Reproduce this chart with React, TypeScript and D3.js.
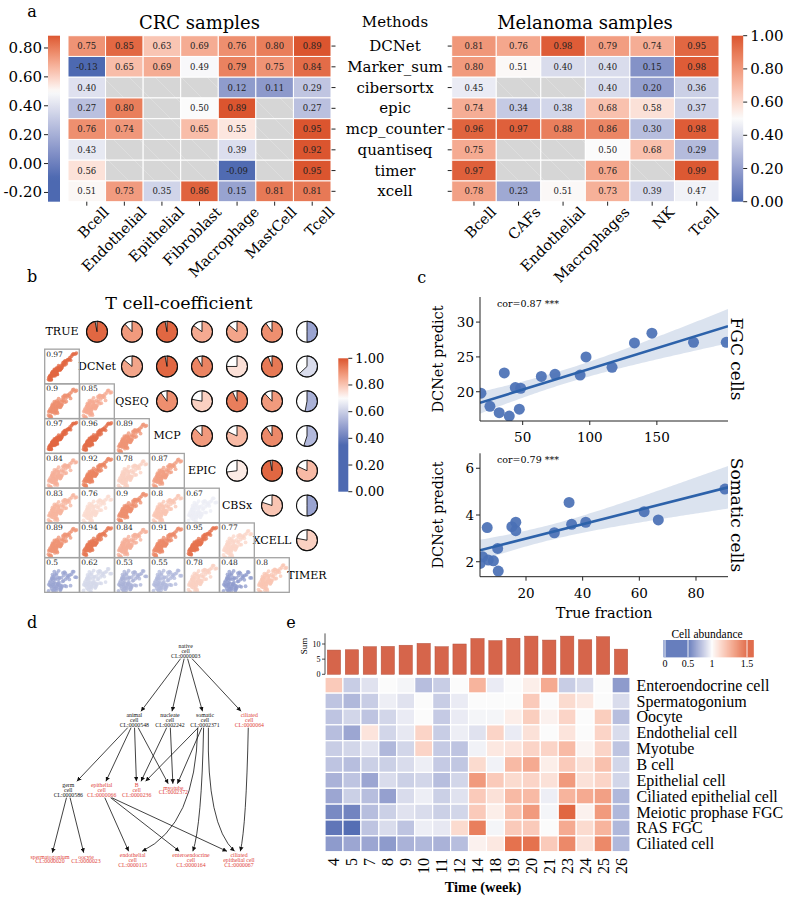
import React from "react";
import * as d3 from "d3";

// ---------------- Panel a data ----------------
const methods = ["DCNet", "Marker_sum", "cibersortx", "epic", "mcp_counter", "quantiseq", "timer", "xcell"];
const crcCellTypes = ["Bcell", "Endothelial", "Epithelial", "Fibroblast", "Macrophage", "MastCell", "Tcell"];
const crcCorr: (number | null)[][] = [
  [0.75, 0.85, 0.63, 0.69, 0.76, 0.8, 0.89],
  [-0.13, 0.65, 0.69, 0.49, 0.79, 0.75, 0.84],
  [0.4, null, null, null, 0.12, 0.11, 0.29],
  [0.27, 0.8, null, 0.5, 0.89, null, 0.27],
  [0.76, 0.74, null, 0.65, 0.55, null, 0.95],
  [0.43, null, null, null, 0.39, null, 0.92],
  [0.56, null, null, null, -0.09, null, 0.95],
  [0.51, 0.73, 0.35, 0.86, 0.15, 0.81, 0.81],
];
const melCellTypes = ["Bcell", "CAFs", "Endothelial", "Macrophages", "NK", "Tcell"];
const melCorr: (number | null)[][] = [
  [0.81, 0.76, 0.98, 0.79, 0.74, 0.95],
  [0.8, 0.51, 0.4, 0.4, 0.15, 0.98],
  [0.45, null, null, 0.4, 0.2, 0.36],
  [0.74, 0.34, 0.38, 0.68, 0.58, 0.37],
  [0.96, 0.97, 0.88, 0.86, 0.3, 0.98],
  [0.75, null, null, 0.5, 0.68, 0.29],
  [0.97, null, null, 0.76, null, 0.99],
  [0.78, 0.23, 0.51, 0.73, 0.39, 0.47],
];
const crcTicks = [0.8, 0.6, 0.4, 0.2, 0, -0.2];
const melTicks = [1, 0.8, 0.6, 0.4, 0.2, 0];

// ---------------- Panel b data ----------------
const bMethods = ["TRUE", "DCNet", "QSEQ", "MCP", "EPIC", "CBSx", "XCELL", "TIMER"];
const bScatterCorr = [
  [0.97],
  [0.9, 0.85],
  [0.97, 0.96, 0.89],
  [0.84, 0.92, 0.78, 0.87],
  [0.83, 0.76, 0.9, 0.8, 0.67],
  [0.89, 0.94, 0.84, 0.91, 0.95, 0.77],
  [0.5, 0.62, 0.53, 0.55, 0.78, 0.48, 0.8],
];
const bPieCorr = [
  [0.97, 0.88, 0.97, 0.85, 0.86, 0.9, 0.5],
  [0.86, 0.97, 0.92, 0.75, 0.94, 0.63],
  [0.9, 0.78, 0.93, 0.88, 0.53],
  [0.88, 0.82, 0.91, 0.55],
  [0.73, 0.97, 0.82],
  [0.8, 0.5],
  [0.78],
];
const bTicks = [1, 0.8, 0.6, 0.4, 0.2, 0];
const cloudU = [
  0.11, 0.23, 0.07, 0.35, 0.18, 0.29, 0.14, 0.42, 0.26, 0.09,
  0.31, 0.21, 0.48, 0.16, 0.38, 0.27, 0.12, 0.55, 0.33, 0.19,
  0.44, 0.24, 0.06, 0.61, 0.36, 0.15, 0.28, 0.5, 0.22, 0.4,
  0.13, 0.68, 0.32, 0.25, 0.46, 0.17, 0.58, 0.3, 0.1, 0.74,
  0.37, 0.2, 0.52, 0.26, 0.34, 0.81, 0.43, 0.16, 0.64, 0.29,
  0.23, 0.88, 0.39, 0.47, 0.14, 0.71, 0.31, 0.56, 0.2, 0.93,
  0.35, 0.27, 0.62, 0.41, 0.18, 0.78, 0.49, 0.24, 0.67, 0.33,
  0.97, 0.45, 0.21, 0.59, 0.38, 0.85, 0.3, 0.53, 0.12, 0.76,
];
const cloudE = [
  0.3, -0.8, 0.5, -0.2, 1.1, -1.3, 0.1, 0.7, -0.5, -1.0,
  1.4, 0.2, -0.9, -0.3, 0.6, -1.6, 0.9, 0.0, -0.6, 1.7,
  -1.1, 0.4, -0.4, 1.0, -0.1, -1.9, 0.8, -0.7, 1.3, 0.1,
  -1.2, 0.5, -0.3, 2.0, -0.8, 0.3, 1.2, -1.4, 0.7, -0.2,
  0.9, -0.6, 0.0, 1.5, -1.7, 0.4, -0.4, 1.1, -1.0, 0.2,
  -0.1, 0.6, 1.8, -0.5, -1.5, 0.3, -0.9, 0.8, 0.5, -0.3,
  -2.1, 1.0, 0.1, -0.7, 1.3, -1.2, 0.6, -0.2, 0.2, 1.6,
  -0.4, -1.1, 0.9, -0.8, 0.0, 0.7, -0.6, 1.2, -1.3, 0.4,
];

// ---------------- Panel c data ----------------
const fgcTrue = [18.9, 25.6, 32.5, 36.3, 40, 44.5, 47.5, 48.5, 63.9, 74.1, 92.8, 97.2, 116.6, 133.3, 146.3, 177.3, 201.7];
const fgcPred = [19.8, 17.9, 17.0, 22.7, 16.5, 20.6, 17.5, 20.5, 22.2, 22.5, 22.4, 25.0, 23.5, 27.0, 28.4, 27.1, 27.1];
const somTrue = [3.8, 4.7, 6.3, 6.7, 8.5, 10.0, 10.2, 15.0, 16.4, 16.4, 30.0, 35.2, 36.1, 41.1, 61.7, 66.7, 90.2];
const somPred = [1.93, 2.21, 3.46, 2.07, 2.04, 2.57, 1.6, 3.5, 3.69, 3.33, 3.24, 4.54, 3.6, 3.69, 4.14, 3.79, 5.11];
const fgcXTicks = [50, 100, 150];
const fgcYTicks = [20, 25, 30];
const somXTicks = [20, 40, 60, 80];
const somYTicks = [2, 4, 6];

// ---------------- Panel d data ----------------
const ontologyNodes = [
  { id: "native", lines: ["native", "cell", "CL:0000003"], inData: false },
  { id: "animal", lines: ["animal", "cell", "CL:0000548"], inData: false },
  { id: "nucleate", lines: ["nucleate", "cell", "CL:0002242"], inData: false },
  { id: "somatic", lines: ["somatic", "cell", "CL:0002371"], inData: false },
  { id: "ciliated", lines: ["ciliated", "cell", "CL:0000064"], inData: true },
  { id: "germ", lines: ["germ", "cell", "CL:0000586"], inData: false },
  { id: "epithelial", lines: ["epithelial", "cell", "CL:0000066"], inData: true },
  { id: "bcell", lines: ["B", "cell", "CL:0000236"], inData: true },
  { id: "myotube", lines: ["myotube", "CL:0002372"], inData: true },
  { id: "spermatogonium", lines: ["spermatogonium", "CL:0000020"], inData: true },
  { id: "oocyte", lines: ["oocyte", "CL:0000023"], inData: true },
  { id: "endothelial", lines: ["endothelial", "cell", "CL:0000115"], inData: true },
  { id: "enteroendocrine", lines: ["enteroendocrine", "cell", "CL:0000164"], inData: true },
  { id: "ciliatedEpi", lines: ["ciliated", "epithelial cell", "CL:0000067"], inData: true },
];
const ontologyEdges: [string, string][] = [
  ["native", "animal"], ["native", "nucleate"], ["native", "somatic"], ["native", "ciliated"],
  ["animal", "germ"], ["animal", "epithelial"], ["animal", "bcell"], ["animal", "myotube"],
  ["nucleate", "bcell"], ["nucleate", "myotube"],
  ["somatic", "bcell"], ["somatic", "myotube"], ["somatic", "endothelial"], ["somatic", "enteroendocrine"], ["somatic", "ciliatedEpi"],
  ["ciliated", "ciliatedEpi"],
  ["germ", "spermatogonium"], ["germ", "oocyte"],
  ["epithelial", "endothelial"], ["epithelial", "enteroendocrine"], ["epithelial", "ciliatedEpi"],
];
// layout (graphviz-like positions)
const ontologyLayout: Record<string, [number, number]> = {
  native: [185.7, 651], animal: [134.3, 720], nucleate: [170, 720], somatic: [205, 720], ciliated: [249.3, 720],
  germ: [68.3, 790], epithelial: [101.7, 790], bcell: [136.7, 790], myotube: [173.3, 790],
  spermatogonium: [50, 859], oocyte: [86, 859], endothelial: [132.7, 860], enteroendocrine: [191, 860], ciliatedEpi: [239, 860],
};

// ---------------- Panel e data ----------------
const weeks = ["4", "5", "7", "8", "9", "10", "11", "12", "14", "18", "19", "20", "21", "23", "24", "25", "26"];
const weekSums = [8.0, 8.1, 9.1, 9.2, 9.6, 10.2, 9.1, 10.0, 11.8, 11.1, 11.9, 12.6, 11.3, 12.6, 11.4, 12.4, 8.3];
const eCellTypes = ["Enteroendocrine cell", "Spermatogonium", "Oocyte", "Endothelial cell", "Myotube", "B cell", "Epithelial cell", "Ciliated epithelial cell", "Meiotic prophase FGC", "RAS FGC", "Ciliated cell"];
const abundance = [
  [1.15, 0.85, 0.92, 1.0, 0.98, 0.8, 0.85, 1.0, 1.22, 0.95, 1.0, 1.04, 1.25, 0.85, 0.9, 1.0, 0.68],
  [0.82, 0.78, 0.85, 0.96, 0.92, 1.0, 0.85, 0.95, 1.0, 1.0, 1.0, 1.15, 1.0, 1.1, 1.06, 1.0, 0.9],
  [0.82, 0.88, 0.82, 0.88, 0.95, 1.0, 0.84, 0.95, 0.98, 0.98, 1.04, 1.14, 1.03, 1.12, 1.0, 1.14, 0.8],
  [0.8, 0.72, 1.07, 0.88, 0.94, 1.12, 0.85, 0.96, 0.92, 1.12, 0.95, 1.08, 1.0, 1.07, 1.0, 1.12, 0.9],
  [0.85, 0.88, 0.92, 0.78, 0.88, 1.12, 0.84, 0.82, 0.97, 1.06, 1.07, 1.12, 1.12, 1.2, 1.02, 1.12, 0.82],
  [0.82, 0.8, 0.86, 0.86, 0.9, 0.96, 0.84, 0.83, 1.1, 0.97, 1.2, 1.25, 1.04, 1.15, 1.08, 1.18, 0.88],
  [0.76, 0.82, 0.72, 0.9, 0.86, 0.88, 0.8, 0.88, 1.3, 1.15, 1.1, 1.12, 1.08, 1.3, 1.08, 1.12, 0.88],
  [0.72, 0.86, 0.8, 0.7, 0.9, 0.96, 0.86, 0.92, 1.15, 1.08, 1.2, 1.2, 0.96, 1.22, 1.25, 1.28, 0.78],
  [0.62, 0.6, 0.8, 0.86, 0.92, 0.9, 0.86, 0.88, 1.15, 1.04, 1.18, 1.3, 0.98, 1.45, 1.03, 1.3, 0.78],
  [0.55, 0.52, 0.82, 0.9, 0.82, 0.96, 0.94, 1.1, 1.38, 0.98, 1.15, 1.15, 1.0, 1.25, 1.1, 1.22, 0.78],
  [0.68, 0.72, 0.72, 0.68, 0.76, 0.78, 0.76, 0.8, 1.03, 1.06, 1.42, 1.42, 1.15, 1.35, 1.08, 1.35, 0.78],
];
const sumTicks = [0, 5, 10];
const legendTicks = [0, 0.5, 1, 1.5];

// ---------------- styling ----------------
const SERIF = "'DejaVu Serif', serif";
const TIMES = "'Liberation Serif', 'Times New Roman', serif";
const interp = d3.piecewise(d3.interpolateLab, ["#4d69b1", "#fbfbfb", "#db552f"]);
const crcColor = d3.scaleDiverging(interp).domain([-0.1, 0.5, 0.89]).clamp(true);
const melColor = d3.scaleDiverging(interp).domain([0, 0.5, 1]).clamp(true);
const bColor = d3.scaleDiverging(interp).domain([0.35, 0.7, 1]).clamp(true);
const eColor = d3.scaleDiverging(interp).domain([0.5, 1, 1.5]).clamp(true);

function VGradient({ id, color, vTop, vBottom }: any) {
  const n = 40;
  return (
    <linearGradient id={id} x1="0" y1="0" x2="0" y2="1">
      {d3.range(n + 1).map((k) => (
        <stop key={k} offset={k / n} stopColor={color(vTop + ((vBottom - vTop) * k) / n)} />
      ))}
    </linearGradient>
  );
}

function ColorBar({ id, x, w, y0, y1, vTop, vBottom, ticks, side, fontSize }: any) {
  const s = d3.scaleLinear().domain([vBottom, vTop]).range([y1, y0]);
  return (
    <g>
      <rect x={x} y={y0} width={w} height={y1 - y0} fill={`url(#${id})`} />
      {ticks.map((t: number) => {
        const ty = s(t);
        return side === "left" ? (
          <g key={t}>
            <line x1={x - 4} x2={x} y1={ty} y2={ty} stroke="#222" strokeWidth={1} />
            <text x={x - 6} y={ty} textAnchor="end" dominantBaseline="central" fontSize={fontSize}>{t.toFixed(2)}</text>
          </g>
        ) : (
          <g key={t}>
            <line x1={x + w} x2={x + w + 4} y1={ty} y2={ty} stroke="#222" strokeWidth={1} />
            <text x={x + w + 7} y={ty} dominantBaseline="central" fontSize={fontSize}>{t.toFixed(2)}</text>
          </g>
        );
      })}
    </g>
  );
}

function Heat({ xScale, yScale, cells, data, color, keyP }: any) {
  return (
    <g>
      {methods.map((m, i) =>
        cells.map((c: string, j: number) => {
          const v = data[i][j];
          const x = xScale(c);
          const y = yScale(m);
          return (
            <g key={`${keyP}-${i}-${j}`}>
              <rect x={x} y={y} width={xScale.bandwidth()} height={yScale.bandwidth()} fill={v == null ? "url(#nanFill)" : color(v)} stroke="#fff" strokeWidth={1} />
              {v != null && (
                <text x={x + xScale.bandwidth() / 2} y={y + yScale.bandwidth() / 2} textAnchor="middle" dominantBaseline="central" fontSize={8.5} fill="#222">
                  {v.toFixed(2)}
                </text>
              )}
            </g>
          );
        })
      )}
    </g>
  );
}

function RegPlot({ id, xs, ys, left, right, top, bottom, xDomain, yDomain, xTicks, yTicks, cor, side }: any) {
  const x = d3.scaleLinear().domain(xDomain).range([left, right]);
  const y = d3.scaleLinear().domain(yDomain).range([bottom, top]);
  const n = xs.length;
  const mx = d3.mean(xs) as number;
  const my = d3.mean(ys) as number;
  const sxx = d3.sum(xs, (v: number) => (v - mx) ** 2);
  const sxy = d3.sum(xs.map((v: number, i: number) => (v - mx) * (ys[i] - my)));
  const b = sxy / sxx;
  const a = my - b * mx;
  const sse = d3.sum(xs.map((v: number, i: number) => (ys[i] - a - b * v) ** 2));
  const s = Math.sqrt(sse / (n - 2));
  const tq = 2.131;
  const grid = d3.range(0, 101).map((k) => xDomain[0] + ((xDomain[1] - xDomain[0]) * k) / 100);
  const half = (v: number) => tq * s * Math.sqrt(1 / n + (v - mx) ** 2 / sxx);
  const band = d3.area<number>().x((v) => x(v)).y0((v) => y(a + b * v - half(v))).y1((v) => y(a + b * v + half(v)));
  const line = d3.line<number>().x((v) => x(v)).y((v) => y(a + b * v));
  return (
    <g>
      <clipPath id={id}>
        <rect x={left} y={top} width={right - left} height={bottom - top} />
      </clipPath>
      <g clipPath={`url(#${id})`}>
        <path d={band(grid) || ""} fill="#4c72b0" opacity={0.2} />
        {xs.map((v: number, i: number) => (
          <circle key={i} cx={x(v)} cy={y(ys[i])} r={5.5} fill="#4a70b5" opacity={0.92} />
        ))}
        <path d={line([xDomain[0], xDomain[1]]) || ""} stroke="#2d62aa" strokeWidth={2.6} fill="none" />
      </g>
      <line x1={left} x2={left} y1={top} y2={bottom} stroke="#222" strokeWidth={1} />
      <line x1={left} x2={right} y1={bottom} y2={bottom} stroke="#222" strokeWidth={1} />
      {xTicks.map((t: number) => (
        <g key={`x${t}`}>
          <line x1={x(t)} x2={x(t)} y1={bottom} y2={bottom + 4} stroke="#222" />
          <text x={x(t)} y={bottom + 16} textAnchor="middle" dominantBaseline="central" fontSize={13.5}>{t}</text>
        </g>
      ))}
      {yTicks.map((t: number) => (
        <g key={`y${t}`}>
          <line x1={left - 4} x2={left} y1={y(t)} y2={y(t)} stroke="#222" />
          <text x={left - 6} y={y(t)} textAnchor="end" dominantBaseline="central" fontSize={13.5}>{t}</text>
        </g>
      ))}
      <text x={left + 17} y={top + 9.5} fontSize={9.5}>{cor}</text>
      <text transform={`translate(438,${(top + bottom) / 2}) rotate(-90)`} textAnchor="middle" dominantBaseline="central" fontSize={14.5}>DCNet predict</text>
      <text transform={`translate(737,${(top + bottom) / 2}) rotate(90)`} textAnchor="middle" dominantBaseline="central" fontSize={17}>{side}</text>
    </g>
  );
}

export default function App() {
  // ----- panel a scales
  const rowY = d3.scaleBand<string>().domain(methods).range([35.7, 201.7]);
  const crcX = d3.scaleBand<string>().domain(crcCellTypes).range([68, 331]);
  const melX = d3.scaleBand<string>().domain(melCellTypes).range([451.7, 719]);

  // ----- panel b geometry
  const bCol = (j: number) => 62 + 35 * j;
  const bRow = (i: number) => 331.7 + 34.76 * i;
  const half = 17.3;
  const pieArc = d3.arc<any>().innerRadius(0).outerRadius(10.5);

  // ----- panel e scales
  const eX = d3.scaleBand<string>().domain(weeks).range([325, 630]);
  const eY = d3.scaleBand<string>().domain(eCellTypes).range([677.3, 851.7]);
  const sumY = d3.scaleLinear().domain([0, 13.5]).range([674.3, 633.4]);
  const legendX = d3.scaleLinear().domain(legendTicks).range([665, 688, 712, 747]);

  // ----- panel d helpers
  const nodeById = new Map(ontologyNodes.map((n) => [n.id, n]));
  const lh = 4.8;
  const nodeTop = (id: string) => ontologyLayout[id][1] - (nodeById.get(id)!.lines.length * lh) / 2 - 1.5;
  const nodeBottom = (id: string) => ontologyLayout[id][1] + (nodeById.get(id)!.lines.length * lh) / 2 + 0.5;

  return (
    <svg width={800} height={897} style={{ position: "absolute", left: 0, top: 0, background: "#fff" }} fontFamily={SERIF}>
      <defs>
        <pattern id="nanFill" width={26} height={26} patternUnits="userSpaceOnUse">
          <rect width={26} height={26} fill="#d6d6d6" />
          <line x1={0} y1={0} x2={26} y2={26} stroke="#e0e0e0" strokeWidth={0.8} />
        </pattern>
        <VGradient id="gradCrc" color={crcColor} vTop={0.885} vBottom={-0.264} />
        <VGradient id="gradMel" color={melColor} vTop={1} vBottom={0} />
        <VGradient id="gradB" color={bColor} vTop={1} vBottom={0} />
        <marker id="arrow" viewBox="0 0 10 10" refX={10} refY={5} markerWidth={4.5} markerHeight={4.5} orient="auto" markerUnits="userSpaceOnUse">
          <path d="M0,0 L10,5 L0,10 z" fill="#111" />
        </marker>
      </defs>
      <rect width={800} height={897} fill="#fff" />

      {/* ================= Panel a ================= */}
      <text x={32} y={17} textAnchor="middle" fontSize={16}>a</text>
      <text x={199.5} y={22} textAnchor="middle" dominantBaseline="central" fontSize={18}>CRC samples</text>
      <text x={585} y={22} textAnchor="middle" dominantBaseline="central" fontSize={18}>Melanoma samples</text>
      <text x={395} y={22} textAnchor="middle" dominantBaseline="central" fontSize={15}>Methods</text>
      <Heat xScale={crcX} yScale={rowY} cells={crcCellTypes} data={crcCorr} color={crcColor} keyP="crc" />
      <Heat xScale={melX} yScale={rowY} cells={melCellTypes} data={melCorr} color={melColor} keyP="mel" />
      {methods.map((m) => {
        const cy = (rowY(m) as number) + rowY.bandwidth() / 2;
        return (
          <g key={m}>
            <line x1={331.5} x2={335.5} y1={cy} y2={cy} stroke="#222" />
            <line x1={447.7} x2={451.7} y1={cy} y2={cy} stroke="#222" />
            <text x={395} y={cy} textAnchor="middle" dominantBaseline="central" fontSize={15}>{m}</text>
          </g>
        );
      })}
      {crcCellTypes.map((c) => {
        const cx = (crcX(c) as number) + crcX.bandwidth() / 2;
        return (
          <g key={c}>
            <line x1={cx} x2={cx} y1={201.7} y2={205.7} stroke="#222" />
            <text transform={`translate(${cx + 23},${213}) rotate(-45)`} textAnchor="end" fontSize={14.5}>{c}</text>
          </g>
        );
      })}
      {melCellTypes.map((c) => {
        const cx = (melX(c) as number) + melX.bandwidth() / 2;
        return (
          <g key={c}>
            <line x1={cx} x2={cx} y1={201.7} y2={205.7} stroke="#222" />
            <text transform={`translate(${cx + 23},${213}) rotate(-45)`} textAnchor="end" fontSize={14.5}>{c}</text>
          </g>
        );
      })}
      <ColorBar id="gradCrc" x={48} w={12} y0={35.7} y1={201.7} vTop={0.885} vBottom={-0.264} ticks={crcTicks} side="left" fontSize={15} />
      <ColorBar id="gradMel" x={731.7} w={11.5} y0={35.7} y1={201.7} vTop={1} vBottom={0} ticks={melTicks} side="right" fontSize={15} />

      {/* ================= Panel b ================= */}
      <text x={32} y={282} textAnchor="middle" fontSize={16}>b</text>
      <text x={179} y={303} textAnchor="middle" dominantBaseline="central" fontSize={17.5}>T cell-coefficient</text>
      {bMethods.map((m, i) => (
        <text key={m} x={bCol(i)} y={bRow(i)} textAnchor="middle" dominantBaseline="central" fontSize={11}>{m}</text>
      ))}
      {bScatterCorr.map((row, ri) =>
        row.map((r, j) => {
          const i = ri + 1;
          const x0 = bCol(j) - half;
          const y0 = bRow(i) - half;
          const side = half * 2;
          const cid = `sc-${i}-${j}`;
          const col = bColor(r);
          const noise = Math.sqrt(1 - r * r);
          return (
            <g key={cid}>
              <clipPath id={cid}>
                <rect x={x0} y={y0} width={side} height={side} />
              </clipPath>
              <g clipPath={`url(#${cid})`}>
                {cloudU.map((u, k) => {
                  const v = 0.04 + r * u * 0.98 + noise * cloudE[k] * 0.26;
                  return <circle key={k} cx={x0 + 2 + u * (side - 4)} cy={y0 + side - 2 - v * (side - 4)} r={1.9} fill={col} opacity={0.75} />;
                })}
              </g>
              <rect x={x0} y={y0} width={side} height={side} fill="none" stroke="#a3a3a3" strokeWidth={1.3} />
              <text x={x0 + 1.5} y={y0 + 7.5} fontSize={7.5} fill="#222">{String(r)}</text>
            </g>
          );
        })
      )}
      {bPieCorr.map((row, i) =>
        row.map((r, k) => {
          const j = i + 1 + k;
          const cx = bCol(j);
          const cy = bRow(i);
          return (
            <g key={`pie-${i}-${j}`} transform={`translate(${cx},${cy})`}>
              <circle r={10.5} fill="#fff" />
              <path d={pieArc({ startAngle: 0, endAngle: r * 2 * Math.PI }) || ""} fill={bColor(r)} stroke="#111" strokeWidth={0.9} strokeLinejoin="round" />
              <circle r={10.5} fill="none" stroke="#111" strokeWidth={1.1} />
            </g>
          );
        })
      )}
      <ColorBar id="gradB" x={338.3} w={10} y0={358.3} y1={491.7} vTop={1} vBottom={0} ticks={bTicks} side="right" fontSize={13} />

      {/* ================= Panel c ================= */}
      <text x={421.7} y={283} textAnchor="middle" fontSize={16}>c</text>
      <RegPlot id="clipFgc" xs={fgcTrue} ys={fgcPred} left={480} right={728} top={297} bottom={421} xDomain={[18.2, 203]} yDomain={[15.8, 33.6]} xTicks={fgcXTicks} yTicks={fgcYTicks} cor="cor=0.87 ***" side="FGC cells" />
      <RegPlot id="clipSom" xs={somTrue} ys={somPred} left={480} right={728} top={453.3} bottom={576.7} xDomain={[3.76, 91.3]} yDomain={[1.36, 6.64]} xTicks={somXTicks} yTicks={somYTicks} cor="cor=0.79 ***" side="Somatic cells" />
      <text x={604} y={613} textAnchor="middle" dominantBaseline="central" fontSize={14.5}>True fraction</text>

      {/* ================= Panel d ================= */}
      <text x={32} y={628} textAnchor="middle" fontSize={16}>d</text>
      <g fontFamily={TIMES}>
        {ontologyEdges.map(([s, t]) => {
          const [sx, sy0] = ontologyLayout[s];
          const [tx] = ontologyLayout[t];
          const x0 = sx + Math.max(-10, Math.min(10, (tx - sx) * 0.1));
          const y0 = nodeBottom(s);
          const x1 = tx + Math.max(-12, Math.min(12, (sx - tx) * 0.13));
          const y1 = nodeTop(t);
          const skip = ontologyLayout[t][1] - sy0 > 100;
          const p = d3.path();
          p.moveTo(x0, y0);
          if (skip) p.quadraticCurveTo(x0 - 2, y1 - 0.21 * (y1 - y0), x1, y1);
          else p.lineTo(x1, y1);
          return <path key={`${s}-${t}`} d={p.toString()} stroke="#111" strokeWidth={0.8} fill="none" markerEnd="url(#arrow)" />;
        })}
        {ontologyNodes.map((n) => {
          const [x, y] = ontologyLayout[n.id];
          const m = n.lines.length;
          return (
            <text key={n.id} x={x} textAnchor="middle" fontSize={5.8} fill={n.inData ? "#e0433a" : "#111"}>
              {n.lines.map((l, k) => (
                <tspan key={k} x={x} y={y + (k - (m - 1) / 2) * lh} dominantBaseline="central">{l}</tspan>
              ))}
            </text>
          );
        })}
      </g>

      {/* ================= Panel e ================= */}
      <text x={291} y={628} textAnchor="middle" fontSize={16}>e</text>
      <g fontFamily={TIMES}>
        {weeks.map((w, i) => {
          const bw = eX.bandwidth();
          return (
            <rect key={w} x={(eX(w) as number) + bw * 0.13} width={bw * 0.74} y={sumY(weekSums[i])} height={sumY(0) - sumY(weekSums[i])} fill="#d6654b" stroke="#b4503c" strokeWidth={0.5} />
          );
        })}
        <line x1={325} x2={325} y1={sumY(13.5)} y2={sumY(0)} stroke="#222" strokeWidth={0.8} />
        {sumTicks.map((t) => (
          <g key={t}>
            <line x1={322} x2={325} y1={sumY(t)} y2={sumY(t)} stroke="#222" strokeWidth={0.8} />
            <text x={320.5} y={sumY(t)} textAnchor="end" dominantBaseline="central" fontSize={8}>{t}</text>
          </g>
        ))}
        <text transform="translate(304,646) rotate(-90)" textAnchor="middle" dominantBaseline="central" fontSize={9}>Sum</text>
        {eCellTypes.map((c, i) =>
          weeks.map((w, j) => (
            <rect key={`${i}-${j}`} x={eX(w)} y={eY(c)} width={eX.bandwidth()} height={eY.bandwidth()} fill={eColor(abundance[i][j])} stroke="#fff" strokeWidth={1.2} />
          ))
        )}
        {eCellTypes.map((c) => (
          <text key={c} x={636.5} y={(eY(c) as number) + eY.bandwidth() / 2} dominantBaseline="central" fontSize={16}>{c}</text>
        ))}
        {weeks.map((w) => (
          <text key={w} transform={`translate(${(eX(w) as number) + eX.bandwidth() / 2},${858}) rotate(-90)`} textAnchor="end" dominantBaseline="central" fontSize={16}>{w}</text>
        ))}
        <text x={483} y={887} textAnchor="middle" dominantBaseline="central" fontSize={14.5} fontWeight="bold">Time (week)</text>
        <text x={707} y={633.5} textAnchor="middle" dominantBaseline="central" fontSize={11.5}>Cell abundance</text>
        {d3.range(663.5, 753.5, 1).map((px) => (
          <rect key={px} x={px} y={640} width={1.2} height={17.3} fill={eColor(legendX.invert(px + 0.5))} />
        ))}
        {legendTicks.map((t) => (
          <g key={t}>
            <line x1={legendX(t)} x2={legendX(t)} y1={640} y2={657.3} stroke="#fff" strokeWidth={1} opacity={0.9} />
            <text x={legendX(t)} y={663.5} textAnchor="middle" dominantBaseline="central" fontSize={10}>{String(t)}</text>
          </g>
        ))}
      </g>
    </svg>
  );
}
